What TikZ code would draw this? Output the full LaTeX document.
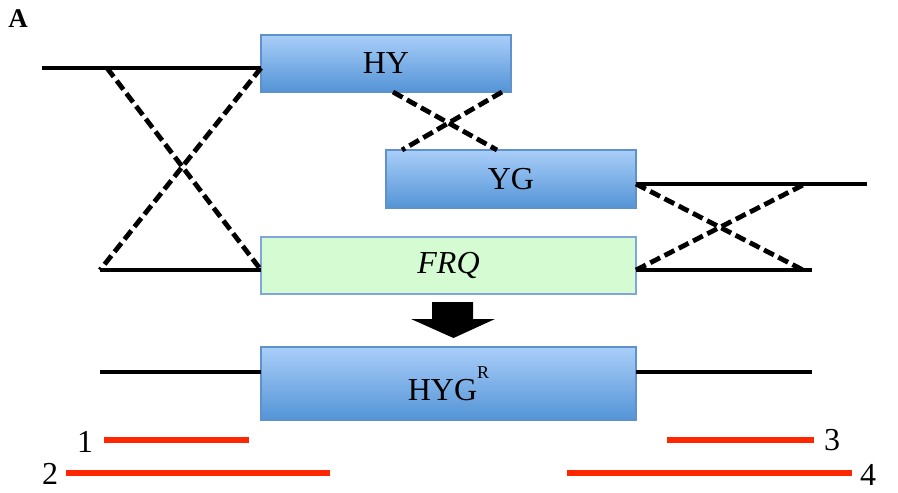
\documentclass[tikz,border=0pt]{standalone}
\usepackage{fontspec}
\setmainfont{Liberation Serif}
\definecolor{btop}{RGB}{170,206,249}
\definecolor{bbot}{RGB}{83,148,214}
\definecolor{bedge}{RGB}{95,145,205}
\definecolor{gfill}{RGB}{212,251,210}
\definecolor{redl}{RGB}{255,38,0}
\begin{document}
\begin{tikzpicture}[x=1pt,y=-1pt,
  bluebox/.style={draw=bedge,line width=1.2pt,top color=btop,bottom color=bbot,
    minimum width=#1,inner sep=0pt,font=\fontsize{32}{32}\selectfont},
  greenbox/.style={draw=bedge!80,line width=1.2pt,fill=gfill,inner sep=0pt,
    font=\fontsize{32}{32}\selectfont\itshape},
  solidln/.style={line width=4.8pt,black},
  dashln/.style={line width=4.8pt,black,dash pattern=on 11pt off 5pt},
  redln/.style={line width=5.5pt,redl},
  numlab/.style={font=\fontsize{32}{32}\selectfont,inner sep=0pt}]
\useasboundingbox (0,0) rectangle (898,493);
\node[font=\fontsize{27}{27}\selectfont\bfseries,inner sep=0pt] (lblA) at (18,19) {A};
% boxes
\node[bluebox=250pt,minimum height=57pt] (hy) at (386,63.5) {HY};
\node[bluebox=250pt,minimum height=58pt] (yg) at (511,179) {YG};
\node[greenbox,minimum width=375pt,minimum height=57pt] (frq) at (448.5,265.5) {FRQ};
\node[bluebox=375pt,minimum height=73pt] (hyg) at (448.5,383.5) {HYG\raisebox{22pt}{\fontsize{18}{18}\selectfont R}};
% coordinates
\coordinate (tl1) at (42,68);
\coordinate (tl2) at (107,68);
\coordinate (hyl) at (261,68);
\coordinate (bl1) at (100,270);
\coordinate (frql) at (261,270);
\coordinate (hyb1) at (393,92);
\coordinate (hyb2) at (502,92);
\coordinate (ygt1) at (402,150);
\coordinate (ygt2) at (497,150);
\coordinate (ygr) at (636,184);
\coordinate (tr1) at (805,184);
\coordinate (tr2) at (867,184);
\coordinate (frqr) at (636,270);
\coordinate (br1) at (803,270);
\coordinate (br2) at (812,270);
\coordinate (hgl1) at (100,372);
\coordinate (hgl2) at (261,372);
\coordinate (hgr1) at (636,372);
\coordinate (hgr2) at (812,372);
% solid lines
\draw[solidln] (tl1) -- (hyl);
\draw[solidln] (bl1) -- (frql);
\draw[solidln] (ygr) -- (tr2);
\draw[solidln] (frqr) -- (br2);
\draw[solidln] (hgl1) -- (hgl2);
\draw[solidln] (hgr1) -- (hgr2);
% dashed crossings
\draw[dashln] (tl2) -- (frql);
\draw[dashln] (hyl) -- (bl1);
\draw[dashln] (hyb1) -- (ygt2);
\draw[dashln] (hyb2) -- (ygt1);
\draw[dashln] (ygr) -- (br1);
\draw[dashln] (frqr) -- (tr1);
% block arrow
\fill[black] (432,302) -- (473,302) -- (473,319) -- (495,319) -- (453.5,338)
  -- (411,319) -- (432,319) -- cycle;
% red lines and labels
\node[numlab] (n1) at (85,442) {1};
\node[numlab] (n2) at (50,474) {2};
\node[numlab] (n3) at (832,440) {3};
\node[numlab] (n4) at (868,475) {4};
\coordinate (r1a) at (104,440); \coordinate (r1b) at (249,440);
\coordinate (r2a) at (66,473);  \coordinate (r2b) at (330,473);
\coordinate (r3a) at (667,440); \coordinate (r3b) at (814,440);
\coordinate (r4a) at (567,473); \coordinate (r4b) at (852,473);
\draw[redln] (r1a) -- (r1b);
\draw[redln] (r2a) -- (r2b);
\draw[redln] (r3a) -- (r3b);
\draw[redln] (r4a) -- (r4b);
\end{tikzpicture}
\end{document}
